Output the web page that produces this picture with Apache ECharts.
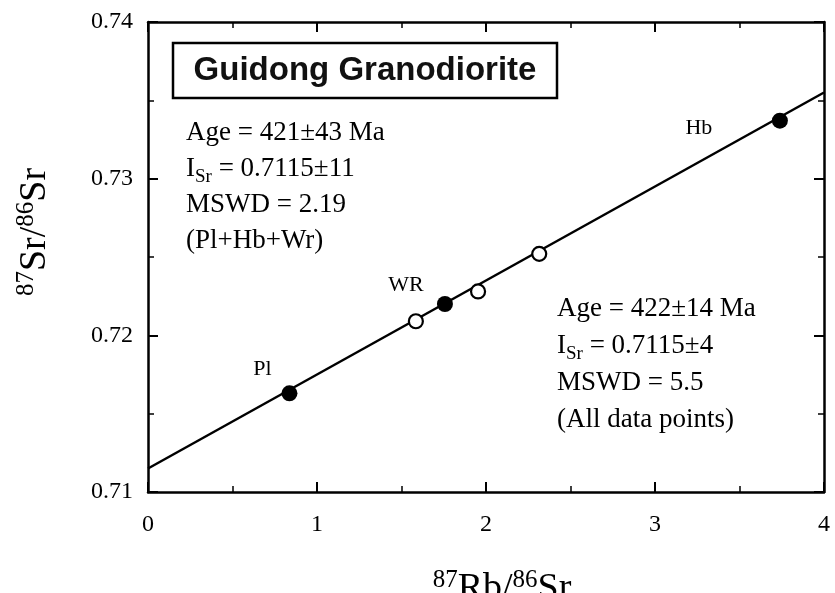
<!DOCTYPE html>
<html>
<head>
<meta charset="utf-8">
<script src="https://cdn.jsdelivr.net/npm/echarts@6/dist/echarts.min.js"></script>
<style>
  html, body { margin: 0; padding: 0; background: #fff; }
  #chart { width: 835px; height: 593px; }
</style>
</head>
<body>
<div id="chart"></div>
<script>
// 数据：87Rb/86Sr 与 87Sr/86Sr
var filledX = [0.837, 1.757, 3.739];
var filledY = [0.7163, 0.7220, 0.7337];
var filledNames = ['Pl', 'WR', 'Hb'];
var openX = [1.585, 1.953, 2.315];
var openY = [0.7209, 0.7228, 0.7252];
// 等时线
var isoX = [0, 4];
var isoY = [0.7115, 0.7355];
var xTicks = [0, 1, 2, 3, 4];
var yTicks = [0.71, 0.72, 0.73, 0.74];

var serif = 'Liberation Serif';
var labelOffsets = { Pl: [-27, -24], WR: [-39, -19], Hb: [-81, 8] };

function pairs(xs, ys) {
  return xs.map(function (x, i) { return [x, ys[i]]; });
}

var chart = echarts.init(document.getElementById('chart'));

// 四边框 + 向内刻度
function frameAxis() {
  return {
    axisLine: { show: true, onZero: false, lineStyle: { color: '#000', width: 2.5 } },
    axisTick: { show: true, inside: true, length: 10, lineStyle: { color: '#000', width: 2 } },
    minorTick: { show: true, splitNumber: 2, length: 6, lineStyle: { color: '#000', width: 1.5 } },
    splitLine: { show: false }
  };
}

var nameRich = {
  sup: { fontFamily: serif, fontSize: 25, verticalAlign: 'top', lineHeight: 42, color: '#000' },
  n: { fontFamily: serif, fontSize: 38, lineHeight: 42, color: '#000' }
};

var option = {
  backgroundColor: '#fff',
  animation: false,
  grid: { left: 148, right: 11, top: 22, bottom: 101, outerBoundsMode: 'none', containLabel: false },
  xAxis: [
    Object.assign(frameAxis(), {
      type: 'value', min: xTicks[0], max: xTicks[xTicks.length - 1], interval: 1,
      position: 'bottom',
      axisLabel: { color: '#000', fontFamily: serif, fontSize: 24, margin: 21 },
      name: '{sup|87}{n|Rb/}{sup|86}{n|Sr}',
      nameLocation: 'middle', nameGap: 76,
      nameTextStyle: { rich: nameRich, padding: [0, 0, 0, 32] }
    }),
    Object.assign(frameAxis(), {
      type: 'value', min: xTicks[0], max: xTicks[xTicks.length - 1], interval: 1,
      position: 'top', axisLabel: { show: false }
    })
  ],
  yAxis: [
    Object.assign(frameAxis(), {
      type: 'value', min: yTicks[0], max: yTicks[yTicks.length - 1], interval: 0.01,
      position: 'left',
      axisLabel: { color: '#000', fontFamily: serif, fontSize: 24, margin: 15 },
      name: '{sup|87}{n|Sr/}{sup|86}{n|Sr}',
      nameLocation: 'middle', nameGap: 92, nameRotate: 90,
      nameTextStyle: { rich: nameRich, padding: [0, 0, 0, 50] }
    }),
    Object.assign(frameAxis(), {
      type: 'value', min: yTicks[0], max: yTicks[yTicks.length - 1], interval: 0.01,
      position: 'right', axisLabel: { show: false }
    })
  ],
  graphic: [
    {
      type: 'rect', shape: { x: 173, y: 43, width: 384, height: 55 },
      style: { fill: '#fff', stroke: '#000', lineWidth: 2.5 }, z: 100
    },
    {
      type: 'text', x: 365, y: 71, z: 101,
      style: {
        text: 'Guidong Granodiorite', align: 'center', verticalAlign: 'middle',
        fontFamily: 'Liberation Sans', fontWeight: 'bold', fontSize: 33, fill: '#111'
      }
    },
    {
      type: 'text', left: 186, top: 115, z: 101,
      style: {
        text: 'Age = 421±43 Ma\n{n|I}{sub|Sr}{n| = 0.7115±11}\nMSWD = 2.19\n(Pl+Hb+Wr)',
        fontFamily: serif, fontSize: 27, lineHeight: 36, fill: '#000',
        rich: {
          n: { fontFamily: serif, fontSize: 27, lineHeight: 36, fill: '#000' },
          sub: { fontFamily: serif, fontSize: 19, lineHeight: 36, verticalAlign: 'bottom', fill: '#000' }
        }
      }
    },
    {
      type: 'text', left: 557, top: 290, z: 101,
      style: {
        text: 'Age = 422±14 Ma\n{n|I}{sub|Sr}{n| = 0.7115±4}\nMSWD = 5.5\n(All data points)',
        fontFamily: serif, fontSize: 27, lineHeight: 37, fill: '#000',
        rich: {
          n: { fontFamily: serif, fontSize: 27, lineHeight: 37, fill: '#000' },
          sub: { fontFamily: serif, fontSize: 19, lineHeight: 37, verticalAlign: 'bottom', fill: '#000' }
        }
      }
    }
  ],
  series: [
    {
      type: 'line', data: pairs(isoX, isoY), symbol: 'none', z: 2,
      lineStyle: { color: '#000', width: 2.5 }
    },
    {
      type: 'scatter', z: 3,
      data: pairs(openX, openY),
      symbol: 'circle', symbolSize: 14,
      itemStyle: { color: '#fff', borderColor: '#000', borderWidth: 2.2, opacity: 1 }
    },
    {
      type: 'scatter', z: 4,
      data: pairs(filledX, filledY).map(function (p, i) {
        return {
          value: p,
          label: {
            show: true, formatter: filledNames[i], offset: labelOffsets[filledNames[i]],
            position: 'inside', color: '#000', fontFamily: serif, fontSize: 22
          }
        };
      }),
      symbol: 'circle', symbolSize: 16,
      itemStyle: { color: '#000', opacity: 1 }
    }
  ]
};

chart.setOption(option);
</script>
</body>
</html>
